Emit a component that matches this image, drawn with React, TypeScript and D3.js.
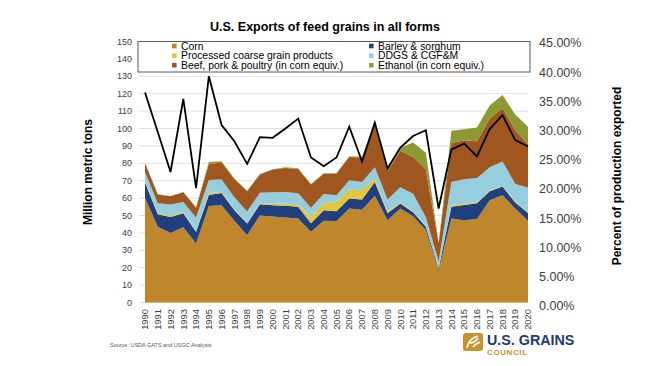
import React from "react";
import * as d3 from "d3";

const years = d3.range(1990, 2021);
const corn = [60, 43.5, 40, 43.2, 33.9, 55.4, 55.9, 47, 38.7, 50, 49.4, 48.8, 48.3, 40.6, 47, 46.8, 54, 53.3, 61.4, 47.3, 54, 49.5, 41.6, 18.6, 48.3, 47.3, 48, 58.8, 61.6, 54, 47];
const barley = [9, 7.2, 9.2, 8.1, 6.7, 6.4, 7.1, 6, 6.7, 6.4, 6.5, 6.8, 6.7, 5, 6, 5.7, 5.7, 5.9, 7.9, 4, 2.9, 2.3, 1.9, 1, 6.8, 8.8, 9, 5.2, 5, 3.5, 4.5];
const processed = [0.5, 0.8, 0.8, 0.7, 0.6, 1.2, 0.6, 0.5, 0.4, 0.6, 1, 1.1, 1.5, 3.6, 4, 5.3, 5.3, 5.3, 2, 0.9, 0.7, 0.5, 0.5, 0.3, 0.9, 0.9, 0.6, 0.5, 0.5, 0.5, 0.5];
const ddgs = [5.5, 5.5, 6.3, 5.8, 7.6, 7.4, 7.1, 7, 6.5, 6.1, 6.4, 6.8, 6.3, 5.3, 5.3, 3.8, 5.2, 4.7, 6.4, 7, 8.6, 10.2, 5, 3.7, 13.3, 13.9, 14, 13.2, 13.9, 10.3, 14];
const beef = [5, 5, 4.7, 5.5, 5.7, 9.2, 9.7, 10.5, 11.7, 10.5, 13.1, 13.8, 13.9, 13.3, 11.7, 12.5, 13.4, 14.2, 24.1, 16.3, 20.8, 21.3, 27.5, 10.4, 22.4, 22.3, 21.1, 27.9, 30.8, 30.7, 25];
const ethanol = [0.3, 0.2, 0.2, 0.2, 0.2, 1.2, 0.8, 0.3, 0.2, 0.2, 0.2, 0.5, 0.5, 0.3, 0.3, 0.3, 0.3, 0.5, 1, 1, 2, 8.2, 9.5, 0.5, 7, 6.3, 7.9, 7.6, 7.4, 9, 10];
const pctExported = [36.2, 29.4, 22.5, 35.1, 19.7, 39.0, 30.6, 27.8, 23.9, 28.5, 28.4, 30.0, 31.7, 25.0, 23.5, 25.0, 30.3, 24.3, 31.0, 23.1, 26.7, 28.7, 29.7, 16.2, 26.4, 27.4, 25.2, 29.9, 32.3, 28.0, 26.9];

const seriesNames = ["Corn", "Barley & sorghum", "Processed coarse grain products", "DDGS & CGF&M", "Beef, pork & poultry (in corn equiv.)", "Ethanol (in corn equiv.)"];
const seriesValues = [corn, barley, processed, ddgs, beef, ethanol];
const colors = ["#C0862B", "#1F3F7E", "#E3C63A", "#95CEDE", "#A0561F", "#8D9A34"];
const leftTicks = d3.range(0, 151, 10);
const rightTicks = d3.range(0, 0.451, 0.05);

const W = 650, H = 366;
const x0 = 145, x1 = 528, yBottom = 302.5, yTop = 41.5;

export default function App() {
  const x = d3.scaleLinear().domain([1990, 2020]).range([x0, x1]);
  const y = d3.scaleLinear().domain([0, 150]).range([yBottom, yTop]);
  const yR = d3.scaleLinear().domain([0, 0.45]).range([yBottom, yTop]);
  const yRLabel = d3.scaleLinear().domain([0, 0.45]).range([306, 43]);

  const rows = years.map((yr, i) => {
    const r: any = { year: yr };
    seriesNames.forEach((n, k) => (r[n] = seriesValues[k][i]));
    return r;
  });
  const stacked = d3.stack().keys(seriesNames)(rows);
  const area = d3
    .area<any>()
    .x((d) => x(d.data.year))
    .y0((d) => y(d[0]))
    .y1((d) => y(d[1]));
  const line = d3
    .line<number>()
    .x((_, i) => x(years[i]))
    .y((d) => yR(d / 100));

  const legendPos = [
    [172, 46], [369, 46],
    [172, 55.7], [369, 55.7],
    [172, 65.2], [369, 65.2],
  ];
  const legendOrder = [0, 1, 2, 3, 4, 5];

  return (
    <div style={{ position: "absolute", left: 0, top: 0 }}>
      <svg width={W} height={H} style={{ display: "block", background: "#fff" }} fontFamily="'Liberation Sans', Arial, sans-serif">
        <rect width={W} height={H} fill="#fff" />
        <text x={325} y={31} textAnchor="middle" fontWeight="bold" fontSize={12.5} fill="#000">
          U.S. Exports of feed grains in all forms
        </text>
        {leftTicks.map((t) => (
          <g key={t}>
            <line x1={139} x2={x1} y1={y(t)} y2={y(t)} stroke="#d9d9d9" strokeWidth={0.8} />
            <text x={132} y={y(t)} dy="0.35em" textAnchor="end" fontSize={9} fill="#404040">
              {t}
            </text>
          </g>
        ))}
        {rightTicks.map((t, i) => (
          <text key={i} x={539} y={yRLabel(t)} dy="0.35em" fontSize={12.5} fill="#404040">
            {d3.format(".2%")(t)}
          </text>
        ))}
        {stacked.map((s, k) => (
          <path key={k} d={area(s as any) || ""} fill={colors[k]} />
        ))}
        <path d={line(pctExported) || ""} fill="none" stroke="#000" strokeWidth={1.8} strokeLinejoin="miter" />
        {years.map((yr) => (
          <text
            key={yr}
            transform={`translate(${x(yr) + 3.2},309) rotate(-90)`}
            textAnchor="end"
            fontSize={9.4}
            fill="#404040"
          >
            {yr}
          </text>
        ))}
        <rect x={138} y={41.5} width={392} height={30.5} fill="#fff" stroke="#595959" strokeWidth={1} />
        {legendOrder.map((k) => (
          <g key={k}>
            <rect x={legendPos[k][0]} y={legendPos[k][1] - 2.3} width={4.6} height={4.6} fill={colors[k]} />
            <text x={legendPos[k][0] + 9} y={legendPos[k][1]} dy="0.35em" fontSize={10.4} fill="#000">
              {seriesNames[k]}
            </text>
          </g>
        ))}
        <text transform="translate(92,172) rotate(-90)" textAnchor="middle" fontWeight="bold" fontSize={12} fill="#000">
          Million metric tons
        </text>
        <text transform="translate(621,176) rotate(-90)" textAnchor="middle" fontWeight="bold" fontSize={12} fill="#000">
          Percent of production exported
        </text>
        <text x={110} y={347} fontSize={5.5} fill="#595959">
          Source: USDA GATS and USGC Analysis
        </text>
        <g>
          <rect x={463} y={333} width={20} height={18} rx={3} fill="#C8922A" />
          <path d="M467,348 C468,342 471,338 478,336 M470,343 C473,343 476,341 478,338 M473,347 C475,344 478,343 480,342" stroke="#fff" strokeWidth={1.6} fill="none" />
          <text x={487} y={345} fontWeight="bold" fontSize={14.3} fill="#1F3A6E">
            U.S. GRAINS
          </text>
          <text x={487} y={354.5} fontWeight="bold" fontSize={8} fill="#C8922A" letterSpacing={0.6}>
            COUNCIL
          </text>
        </g>
      </svg>
    </div>
  );
}
